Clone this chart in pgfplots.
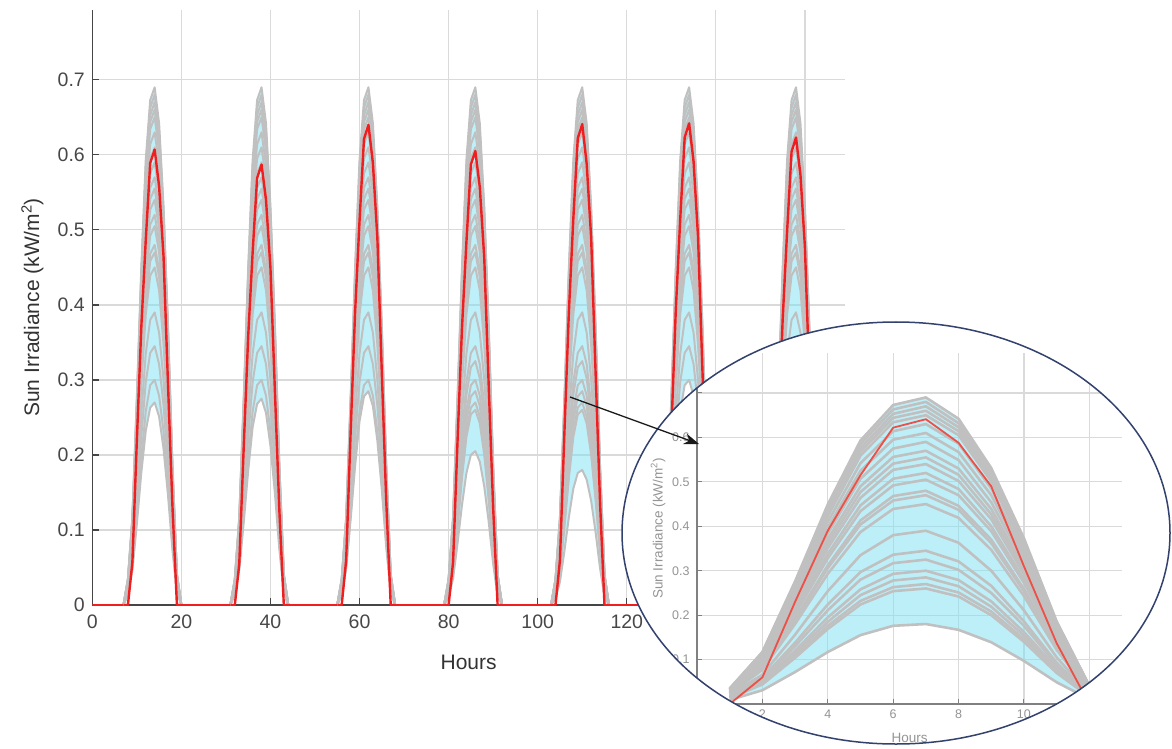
\documentclass[border=0pt]{standalone}
\usepackage{pgfplots}
\pgfplotsset{compat=1.18}
\usepackage{pgfplotstable}
\usetikzlibrary{arrows.meta}
\usepackage{fontspec}
\setmainfont{Liberation Sans}

\definecolor{fillc}{RGB}{125,225,245}
\definecolor{grayc}{RGB}{192,192,192}
\definecolor{redc}{RGB}{240,30,30}
\definecolor{redi}{RGB}{236,80,70}
\definecolor{gridc}{RGB}{218,218,218}
\definecolor{axc}{RGB}{70,70,70}
\definecolor{ellc}{RGB}{50,65,110}

% one day of scenario curves, k = hour within the day (k=0 is 7 h)
\pgfplotstableread{
k p690 p680 p670 p660 p650 p630 p610 p590 p570 p555 p540 p520 p505 p480 p470 p450 p390 p345 p325 p300 p285 p275 p270 p260 p205 p180
0 0 0 0 0 0 0 0 0 0 0 0 0 0 0 0 0 0 0 0 0 0 0 0 0 0 0
1 0.035 0.034 0.034 0.033 0.033 0.032 0.031 0.030 0.029 0.028 0.027 0.026 0.025 0.024 0.024 0.023 0.020 0.017 0.016 0.015 0.014 0.014 0.014 0.013 0.010 0.009
2 0.117 0.116 0.114 0.112 0.111 0.107 0.104 0.100 0.097 0.094 0.092 0.088 0.086 0.082 0.080 0.077 0.066 0.059 0.055 0.051 0.048 0.047 0.046 0.044 0.035 0.031
3 0.276 0.272 0.268 0.264 0.260 0.252 0.244 0.236 0.228 0.222 0.216 0.208 0.202 0.192 0.188 0.180 0.156 0.138 0.130 0.120 0.114 0.110 0.108 0.104 0.082 0.072
4 0.449 0.442 0.436 0.429 0.423 0.410 0.397 0.384 0.371 0.361 0.351 0.338 0.328 0.312 0.306 0.293 0.254 0.224 0.211 0.195 0.185 0.179 0.176 0.169 0.133 0.117
5 0.593 0.585 0.576 0.568 0.559 0.542 0.525 0.507 0.490 0.477 0.464 0.447 0.434 0.413 0.404 0.387 0.335 0.297 0.280 0.258 0.245 0.237 0.232 0.224 0.176 0.155
6 0.673 0.663 0.653 0.644 0.634 0.614 0.595 0.575 0.556 0.541 0.527 0.507 0.492 0.468 0.458 0.439 0.380 0.336 0.317 0.293 0.278 0.268 0.263 0.254 0.200 0.176
7 0.690 0.680 0.670 0.660 0.650 0.630 0.610 0.590 0.570 0.555 0.540 0.520 0.505 0.480 0.470 0.450 0.390 0.345 0.325 0.300 0.285 0.275 0.270 0.260 0.205 0.180
8 0.642 0.632 0.623 0.614 0.605 0.586 0.567 0.549 0.530 0.516 0.502 0.484 0.470 0.446 0.437 0.419 0.363 0.321 0.302 0.279 0.265 0.256 0.251 0.242 0.191 0.167
9 0.531 0.524 0.516 0.508 0.501 0.485 0.470 0.454 0.439 0.427 0.416 0.400 0.389 0.370 0.362 0.347 0.300 0.266 0.250 0.231 0.219 0.212 0.208 0.200 0.158 0.139
10 0.373 0.367 0.362 0.356 0.351 0.340 0.329 0.319 0.308 0.300 0.292 0.281 0.273 0.259 0.254 0.243 0.211 0.186 0.176 0.162 0.154 0.149 0.146 0.140 0.111 0.097
11 0.186 0.184 0.181 0.178 0.176 0.170 0.165 0.159 0.154 0.150 0.146 0.140 0.136 0.130 0.127 0.122 0.105 0.093 0.088 0.081 0.077 0.074 0.073 0.070 0.055 0.049
12 0.041 0.041 0.040 0.040 0.039 0.038 0.037 0.035 0.034 0.033 0.032 0.031 0.030 0.029 0.028 0.027 0.023 0.021 0.020 0.018 0.017 0.017 0.016 0.016 0.012 0.011
13 0 0 0 0 0 0 0 0 0 0 0 0 0 0 0 0 0 0 0 0 0 0 0 0 0 0
}\scen

% band of each day: upper envelope forward, lower envelope backward
\pgfplotstableread{
k f0 f1 f2 f3 f4 f5 f6
0 0 0 0 0 0 0 0
1 0.035 0.035 0.035 0.035 0.035 0.035 0.035
2 0.117 0.117 0.117 0.117 0.117 0.117 0.117
3 0.276 0.276 0.276 0.276 0.276 0.276 0.276
4 0.449 0.449 0.449 0.449 0.449 0.449 0.449
5 0.593 0.593 0.593 0.593 0.593 0.593 0.593
6 0.673 0.673 0.673 0.673 0.673 0.673 0.673
7 0.690 0.690 0.690 0.690 0.690 0.690 0.690
8 0.642 0.642 0.642 0.642 0.642 0.642 0.642
9 0.531 0.531 0.531 0.531 0.531 0.531 0.531
10 0.373 0.373 0.373 0.373 0.373 0.373 0.373
11 0.186 0.186 0.186 0.186 0.186 0.186 0.186
12 0.041 0.041 0.041 0.041 0.041 0.041 0.041
13 0 0 0 0 0 0 0
13 0 0 0 0 0 0 0
12 0.016 0.017 0.017 0.012 0.011 0.018 0.018
11 0.073 0.074 0.077 0.055 0.049 0.081 0.081
10 0.146 0.149 0.154 0.111 0.097 0.162 0.162
9 0.208 0.212 0.219 0.158 0.139 0.231 0.231
8 0.251 0.256 0.265 0.191 0.167 0.279 0.279
7 0.270 0.275 0.285 0.205 0.180 0.300 0.300
6 0.263 0.268 0.278 0.200 0.176 0.293 0.293
5 0.232 0.237 0.245 0.176 0.155 0.258 0.258
4 0.176 0.179 0.185 0.133 0.117 0.195 0.195
3 0.108 0.110 0.114 0.082 0.072 0.120 0.120
2 0.046 0.047 0.048 0.035 0.031 0.051 0.051
1 0.014 0.014 0.014 0.010 0.009 0.015 0.015
0 0 0 0 0 0 0 0
}\band

% band of the zoomed day (hours 1 to 12 of the inset)
\pgfplotstableread{
k y
1 0.035
2 0.117
3 0.276
4 0.449
5 0.593
6 0.673
7 0.690
8 0.642
9 0.531
10 0.373
11 0.186
12 0.041
12 0.011
11 0.049
10 0.097
9 0.139
8 0.167
7 0.180
6 0.176
5 0.155
4 0.117
3 0.072
2 0.031
1 0.009
}\bandi

% red curve of each day
\pgfplotstableread{
k r0 r1 r2 r3 r4 r5 r6
0 0 0 0 0 0 0 0
1 0 0 0 0 0 0 0
2 0.057 0.055 0.060 0.057 0.060 0.060 0.059
3 0.219 0.211 0.230 0.218 0.230 0.231 0.224
4 0.370 0.358 0.390 0.369 0.390 0.392 0.380
5 0.486 0.470 0.512 0.484 0.515 0.514 0.498
6 0.589 0.569 0.621 0.587 0.622 0.623 0.604
7 0.607 0.587 0.640 0.605 0.641 0.642 0.623
8 0.558 0.540 0.589 0.557 0.588 0.591 0.573
9 0.464 0.449 0.490 0.463 0.490 0.491 0.477
10 0.294 0.285 0.310 0.293 0.310 0.311 0.302
11 0.131 0.126 0.138 0.130 0.137 0.138 0.134
12 0 0 0 0 0 0 0
13 0 0 0 0 0 0 0
}\redt

\pgfplotsset{
  grayl/.style={color=grayc, line width=2pt, line join=round, forget plot},
  grayi/.style={color=grayc, line width=2.6pt, line join=round, forget plot},
  bandst/.style={draw=none, fill=fillc, fill opacity=0.5, forget plot},
}

\newcommand{\daylines}[2]{%
  \pgfplotsinvokeforeach{#2}{\addplot[grayl] table[x expr=\thisrow{k}+24*#1+7, y=##1]{\scen};}%
}

\begin{document}
\begin{tikzpicture}[x=1pt,y=1pt]
\path (0,0) rectangle (1172,748);

\begin{axis}[
  at={(92.3pt,143pt)}, anchor=south west,
  scale only axis, width=752.7pt, height=595pt,
  xmin=0, xmax=169, ymin=0, ymax=0.793,
  axis x line*=bottom, axis y line*=left,
  axis line style={axc, line width=1.5pt},
  xtick={0,20,...,160}, ytick={0,0.1,0.2,0.3,0.4,0.5,0.6,0.7},
  grid=major, grid style={gridc, line width=1.3pt},
  tick align=inside, major tick length=7pt,
  tick style={axc, line width=1.3pt},
  /pgf/number format/assume math mode=true,
  yticklabel style={/pgf/number format/fixed, /pgf/number format/precision=1, xshift=-4pt},
  xticklabel style={yshift=-6pt},
  tick label style={font=\fontsize{19.5}{23}\selectfont, text=black!72},
  xlabel={Hours}, ylabel={Sun Irradiance (kW/m\textsuperscript{2})},
  label style={font=\fontsize{21}{25}\selectfont, text=black!80},
  xlabel style={at={(axis description cs:0.5,-0.0958)}, anchor=center},
  ylabel style={at={(axis description cs:-0.0797,0.5)}, anchor=center},
]
\pgfplotsinvokeforeach{0,...,6}{%
  \addplot[bandst] table[x expr=\thisrow{k}+24*#1+7, y=f#1]{\band};
}
\daylines{0}{p690,p680,p670,p660,p650,p630,p610,p590,p570,p555,p540,p520,p505,p480,p470,p450,p390,p345,p300,p270}
\daylines{1}{p690,p680,p670,p660,p650,p630,p610,p590,p570,p555,p540,p520,p505,p480,p470,p450,p390,p345,p300,p275}
\daylines{2}{p690,p680,p670,p660,p650,p630,p610,p590,p570,p555,p540,p520,p505,p480,p470,p450,p390,p345,p300,p285}
\daylines{3}{p690,p680,p670,p660,p650,p630,p610,p590,p570,p555,p540,p520,p505,p480,p470,p450,p390,p345,p325,p300,p285,p270,p260,p205}
\daylines{4}{p690,p680,p670,p660,p650,p630,p610,p590,p570,p555,p540,p520,p505,p480,p470,p450,p390,p345,p325,p300,p285,p270,p260,p180}
\daylines{5}{p690,p680,p670,p660,p650,p630,p610,p590,p570,p555,p540,p520,p505,p480,p470,p450,p390,p345,p300}
\daylines{6}{p690,p680,p670,p660,p650,p630,p610,p590,p570,p555,p540,p520,p505,p480,p470,p450,p390,p345,p300}
\pgfplotsinvokeforeach{0,...,6}{%
  \addplot[redc, line width=2.4pt, line join=round, forget plot] table[x expr=\thisrow{k}+24*#1+7, y=r#1]{\redt};
}
\addplot[redc, line width=2.4pt, unbounded coords=jump, forget plot] coordinates {
 (0,0) (7,0) (7,nan) (20,0) (31,0) (31,nan) (44,0) (55,0) (55,nan) (68,0) (79,0) (79,nan)
 (92,0) (103,0) (103,nan) (116,0) (127,0) (127,nan) (140,0) (151,0) (151,nan) (164,0) (168,0)};
\end{axis}

\begin{scope}
\clip (896pt,215pt) ellipse [x radius=274pt, y radius=211pt];
\fill[white] (896pt,215pt) ellipse [x radius=274pt, y radius=211pt];
\begin{axis}[
  at={(697pt,44pt)}, anchor=south west,
  scale only axis, width=425pt, height=351pt,
  xmin=0, xmax=13, ymin=0, ymax=0.79,
  restrict x to domain=1:12,
  axis x line*=bottom, axis y line*=left,
  axis line style={black!50, line width=1.4pt},
  xtick={0,2,...,12}, ytick={0,0.1,0.2,0.3,0.4,0.5,0.6,0.7},
  grid=major, grid style={gridc, line width=1.2pt},
  tick align=inside, major tick length=5pt,
  tick style={black!50, line width=1pt},
  /pgf/number format/assume math mode=true,
  yticklabel style={/pgf/number format/fixed, /pgf/number format/precision=1, xshift=-4pt},
  xticklabel style={yshift=-2pt},
  tick label style={font=\fontsize{12.5}{15}\selectfont, text=black!42},
  xlabel={Hours}, ylabel={Sun Irradiance (kW/m\textsuperscript{2})},
  label style={font=\fontsize{13.5}{16}\selectfont, text=black!42},
  xlabel style={at={(axis description cs:0.5,-0.0969)}, anchor=center},
  ylabel style={at={(axis description cs:-0.0918,0.5)}, anchor=center},
]
\addplot[bandst] table[x=k, y=y]{\bandi};
\pgfplotsinvokeforeach{p690,p680,p670,p660,p650,p630,p610,p590,p570,p555,p540,p520,p505,p480,p470,p450,p390,p345,p325,p300,p285,p270,p260,p180}{%
  \addplot[grayi] table[x=k, y=#1]{\scen};
}
\addplot[redi, line width=1.8pt, line join=round, forget plot] table[x=k, y=r4]{\redt};
\end{axis}
\end{scope}
\draw[ellc, line width=1.5pt] (896pt,215pt) ellipse [x radius=274pt, y radius=211pt];
\draw[-{Stealth[length=15pt,width=11pt]}, line width=1.3pt, black!90] (570pt,351pt) -- (699pt,304pt);
\end{tikzpicture}
\end{document}
